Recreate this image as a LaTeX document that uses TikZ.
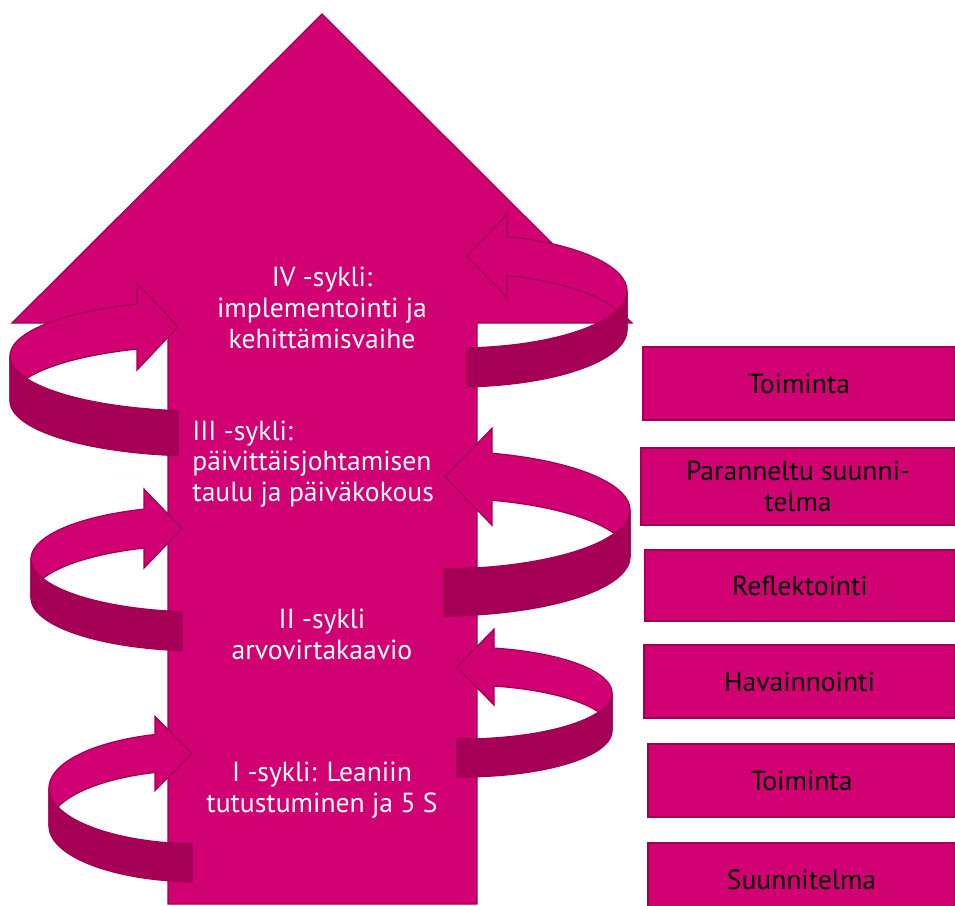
\documentclass[tikz,border=0pt]{standalone}
\usepackage{fontspec}
\setmainfont{PT Sans}
\definecolor{mycolor1}{RGB}{209,0,115}
\definecolor{mycolor2}{RGB}{166,0,86}
\definecolor{mycolor3}{RGB}{158,0,82}

% cx, cy, rx, ry, band height, head base x, band end x, tip x, barb
\newcommand{\loopribbon}[9]{%
  \pgfmathsetmacro\rbTh{360-acos((#6-#1)/#3)}
  \pgfmathsetmacro\rbTe{acos((#7-#1)/#3)}
  \pgfmathsetmacro\rbYt{#2+#4*sin(\rbTh)}
  \filldraw[loopface] (#6,\rbYt)
    -- plot[domain=\rbTh:180] ({#1+#3*cos(\ang)},{#2+#4*sin(\ang)})
    -- plot[domain=180:\rbTh] ({#1+#3*cos(\ang)},{#2+#5+#4*sin(\ang)})
    -- (#6,\rbYt+#5+#9) -- (#8,\rbYt+#5/2) -- (#6,\rbYt-#9) -- cycle;
  \filldraw[loopband]
    plot[domain=180:\rbTe] ({#1+#3*cos(\ang)},{#2+#4*sin(\ang)})
    -- plot[domain=\rbTe:180] ({#1+#3*cos(\ang)},{#2+#5+#4*sin(\ang)}) -- cycle;
}

\begin{document}
\begin{tikzpicture}[x=0.5pt,y=-0.5pt]
    \tikzstyle{every node}=[font=\fontsize{13.8}{15.4}\selectfont]
    \tikzstyle{bigarrow}=[fill=mycolor1, draw=mycolor3, line width=0.6pt]
    \tikzstyle{loopface}=[fill=mycolor1, draw=mycolor3, line width=0.6pt, variable=\ang, samples=40]
    \tikzstyle{loopband}=[fill=mycolor2, draw=mycolor3, line width=0.6pt, variable=\ang, samples=40]
    \tikzstyle{cycle}=[text=white, align=center, inner sep=0pt]
    \tikzstyle{stage}=[fill=mycolor1, draw=mycolor3, line width=0.8pt, anchor=north west,
                       inner sep=0pt, outer sep=0pt, align=center, text=black]

    \clip (0,0) rectangle (955,906);

    % Big arrow
    \filldraw[bigarrow] (168,904) -- (168,323) -- (12,323) -- (322,14)
        -- (632,323) -- (477,323) -- (477,904) -- cycle;

    % Loops on the left
    \loopribbon{200}{356}{190}{55}{45}{137}{178}{178}{21}
    \loopribbon{201}{559}{170}{53}{39}{144}{182}{182}{20}
    \loopribbon{199}{788}{150}{56}{38}{155}{192}{192}{18}

    % Loops on the right
    \begin{scope}[xscale=-1]
        \loopribbon{-457}{291}{170}{57}{39}{-507}{-467}{-467}{22}
        \loopribbon{-440}{510}{190}{59}{47}{-492}{-444}{-445}{25}
        \loopribbon{-462}{693}{150}{46}{38}{-494}{-457}{-457}{19}
    \end{scope}

    % Cycles
    \node[cycle] at (322,308) (cyc4) {IV -sykli:\\implementointi ja\\kehittämisvaihe};
    \node[cycle, align=left, anchor=west] at (192,464) (cyc3) {III -sykli:\\päivittäisjohtamisen\\taulu ja päiväkokous};
    \node[cycle] at (322,634) (cyc2) {II -sykli\\arvovirtakaavio};
    \node[cycle] at (322,790) (cyc1) {I -sykli: Leaniin\\tutustuminen ja 5 S};

    % Stages
    \node[stage, minimum width=156pt, minimum height=36.5pt] at (643,347) (box1) {Toiminta};
    \node[stage, minimum width=157pt, minimum height=38.5pt] at (641,448) (box2) {Paranneltu suunni-\\telma};
    \node[stage, minimum width=155pt, minimum height=35.5pt] at (645,550) (box3) {Reflektointi};
    \node[stage, minimum width=155.5pt, minimum height=36.5pt] at (644,645) (box4) {Havainnointi};
    \node[stage, minimum width=153.5pt, minimum height=36.5pt] at (648,744) (box5) {Toiminta};
    \node[stage, minimum width=153.5pt, minimum height=37pt] at (648,843) (box6) {Suunnitelma};

\end{tikzpicture}
\end{document}
